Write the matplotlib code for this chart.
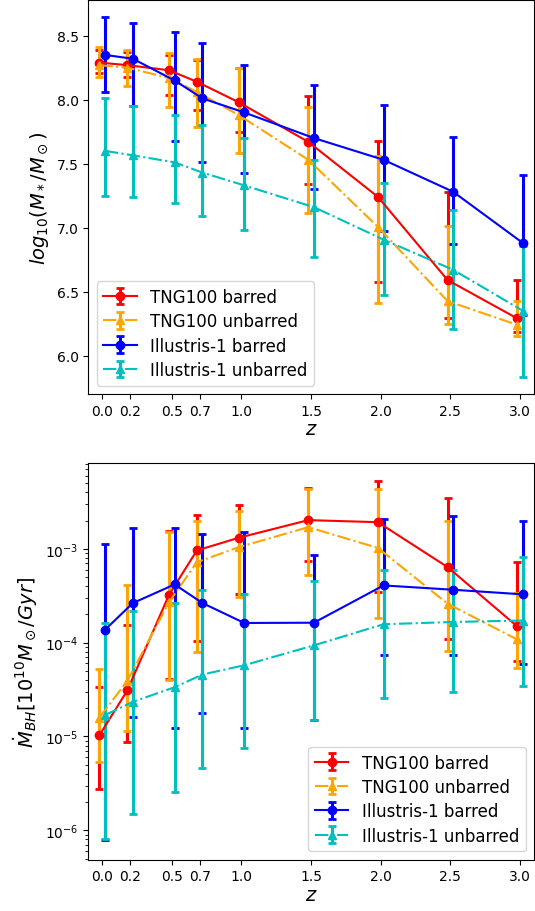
import numpy as np
import matplotlib
matplotlib.use("Agg")
import matplotlib.pyplot as plt

# redshift bins
z = np.array([0.0, 0.2, 0.5, 0.7, 1.0, 1.5, 2.0, 2.5, 3.0])
z_labels = ["0.0", "0.2", "0.5", "0.7", "1.0", "1.5", "2.0", "2.5", "3.0"]

# stellar mass, log10(M*/Msun): median and error bar ends
tng_bar_mass = [8.29, 8.27, 8.23, 8.14, 7.98, 7.67, 7.24, 6.59, 6.29]
tng_bar_mass_lo = [8.21, 8.18, 8.04, 7.92, 7.75, 7.34, 6.575, 6.295, 6.185]
tng_bar_mass_hi = [8.39, 8.37, 8.35, 8.31, 8.25, 8.03, 7.68, 7.28, 6.59]

tng_unbar_mass = [8.27, 8.25, 8.17, 8.06, 7.88, 7.53, 7.005, 6.425, 6.24]
tng_unbar_mass_lo = [8.18, 8.11, 7.94, 7.79, 7.58, 7.115, 6.41, 6.25, 6.155]
tng_unbar_mass_hi = [8.41, 8.385, 8.365, 8.32, 8.25, 7.94, 7.56, 7.01, 6.425]

ill_bar_mass = [8.35, 8.32, 8.15, 8.01, 7.90, 7.70, 7.53, 7.28, 6.88]
ill_bar_mass_lo = [8.06, 7.95, 7.68, 7.51, 7.43, 7.30, 6.97, 6.87, 6.32]
ill_bar_mass_hi = [8.65, 8.60, 8.53, 8.44, 8.27, 8.117, 7.96, 7.71, 7.41]

ill_unbar_mass = [7.60, 7.565, 7.51, 7.43, 7.33, 7.16, 6.906, 6.67, 6.35]
ill_unbar_mass_lo = [7.25, 7.24, 7.195, 7.09, 6.98, 6.77, 6.47, 6.21, 5.83]
ill_unbar_mass_hi = [8.01, 7.95, 7.88, 7.80, 7.70, 7.53, 7.35, 7.135, 6.86]

# black hole accretion rate, 10^10 Msun/Gyr
tng_bar_bh = [1.03e-5, 3.09e-5, 3.24e-4, 9.6e-4, 1.31e-3, 2.02e-3, 1.92e-3, 6.38e-4, 1.49e-4]
tng_bar_bh_lo = [2.75e-6, 8.8e-6, 4.1e-5, 1.03e-4, 3.3e-4, 7.5e-4, 3.46e-4, 1.08e-4, 6.4e-5]
tng_bar_bh_hi = [3.4e-5, 1.55e-4, 1.53e-3, 2.3e-3, 2.96e-3, 4.46e-3, 5.25e-3, 3.47e-3, 7.2e-4]

tng_unbar_bh = [1.59e-5, 3.9e-5, 2.7e-4, 7.2e-4, 1.04e-3, 1.7e-3, 1.02e-3, 2.6e-4, 1.08e-4]
tng_unbar_bh_lo = [5.4e-6, 1.15e-5, 4.0e-5, 7.9e-5, 3.03e-4, 5.2e-4, 1.85e-4, 8.2e-5, 5.4e-5]
tng_unbar_bh_hi = [5.2e-5, 4.07e-4, 1.5e-3, 2.0e-3, 2.5e-3, 4.35e-3, 4.35e-3, 2.0e-3, 3.4e-4]

ill_bar_bh = [1.37e-4, 2.64e-4, 4.17e-4, 2.64e-4, 1.62e-4, 1.63e-4, 4.07e-4, 3.66e-4, 3.27e-4]
ill_bar_bh_lo = [7.8e-7, 1.6e-5, 1.24e-5, 1.8e-5, 1.22e-5, 1.51e-5, 7.45e-5, 7.45e-5, 5.9e-5]
ill_bar_bh_hi = [1.13e-3, 1.66e-3, 1.66e-3, 1.43e-3, 1.5e-3, 8.5e-4, 2.08e-3, 2.26e-3, 1.97e-3]

ill_unbar_bh = [1.69e-5, 2.34e-5, 3.35e-5, 4.57e-5, 5.74e-5, 9.35e-5, 1.57e-4, 1.66e-4, 1.72e-4]
ill_unbar_bh_lo = [8.0e-7, 1.49e-6, 2.54e-6, 4.65e-6, 7.6e-6, 1.5e-5, 2.58e-5, 2.98e-5, 3.47e-5]
ill_unbar_bh_hi = [1.62e-4, 2.16e-4, 2.64e-4, 3.6e-4, 3.3e-4, 4.5e-4, 5.87e-4, 6.0e-4, 8.2e-4]

labels = ["TNG100 barred", "TNG100 unbarred", "Illustris-1 barred", "Illustris-1 unbarred"]
colors = ["red", "orange", "blue", "c"]
markers = ["o", "^", "o", "^"]
styles = ["-", "-.", "-", "-."]
shifts = [-0.02, -0.02, 0.02, 0.02]

mass_sets = [
    (tng_bar_mass, tng_bar_mass_lo, tng_bar_mass_hi),
    (tng_unbar_mass, tng_unbar_mass_lo, tng_unbar_mass_hi),
    (ill_bar_mass, ill_bar_mass_lo, ill_bar_mass_hi),
    (ill_unbar_mass, ill_unbar_mass_lo, ill_unbar_mass_hi),
]
bh_sets = [
    (tng_bar_bh, tng_bar_bh_lo, tng_bar_bh_hi),
    (tng_unbar_bh, tng_unbar_bh_lo, tng_unbar_bh_hi),
    (ill_bar_bh, ill_bar_bh_lo, ill_bar_bh_hi),
    (ill_unbar_bh, ill_unbar_bh_lo, ill_unbar_bh_hi),
]


def draw(ax, sets):
    for (val, lo, hi), lab, col, mk, ls, dz in zip(sets, labels, colors, markers, styles, shifts):
        val = np.array(val)
        yerr = [val - np.array(lo), np.array(hi) - val]
        ax.errorbar(z + dz, val, yerr=yerr, color=col, marker=mk, ls=ls, ms=6,
                    lw=1.5, elinewidth=2.2, capsize=3, capthick=2, label=lab)
    ax.set_xlim(-0.1, 3.1)
    ax.set_xticks(z)
    ax.set_xticklabels(z_labels)
    ax.tick_params(labelsize=10)
    ax.set_xlabel("$z$", fontsize=14, labelpad=1)


fig = plt.figure(figsize=(5.35, 9.12), dpi=100)

# stellar mass panel
ax1 = fig.add_axes([0.165, 0.567, 0.833, 0.432])
draw(ax1, mass_sets)
ax1.set_ylim(5.70, 8.78)
ax1.set_yticks([6.0, 6.5, 7.0, 7.5, 8.0, 8.5])
ax1.set_ylabel(r"$log_{10}(M_*/M_\odot)$", fontsize=14)
ax1.legend(loc="lower left", fontsize=12, handlelength=2.0, labelspacing=0.38)

# accretion rate panel
ax2 = fig.add_axes([0.165, 0.0563, 0.833, 0.4349])
draw(ax2, bh_sets)
ax2.set_yscale("log")
ax2.set_ylim(4.87e-7, 8.2e-3)
ax2.set_ylabel(r"$\dot{M}_{BH}[10^{10}M_\odot/Gyr]$", fontsize=14)
ax2.legend(loc="lower right", fontsize=12, handlelength=2.0, labelspacing=0.38)

fig.savefig("out.png", dpi=100)
